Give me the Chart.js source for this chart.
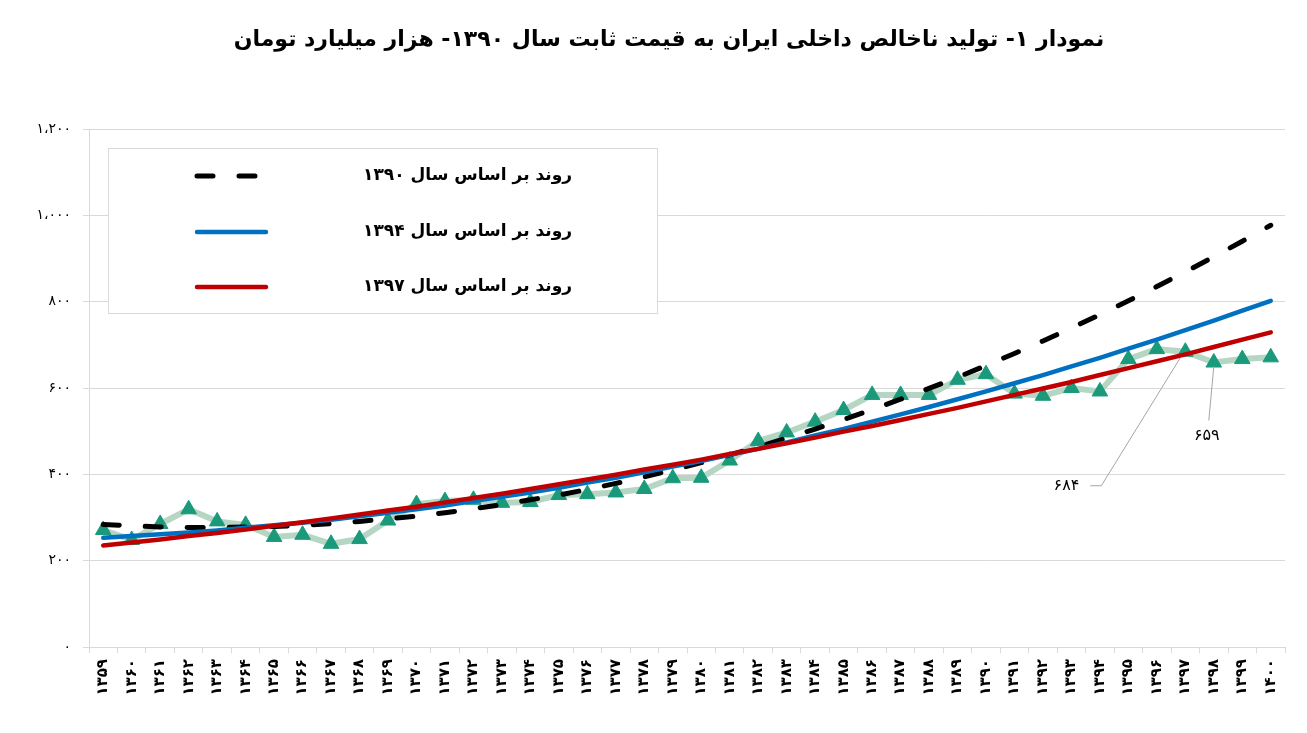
<!DOCTYPE html>
<html lang="fa">
<head>
<meta charset="utf-8">
<script src="https://cdn.jsdelivr.net/npm/chart.js@4.4.1/dist/chart.umd.min.js"></script>
<style>
  html, body { margin: 0; padding: 0; background: #ffffff; }
  #wrap { width: 1307px; height: 733px; position: relative; }
  canvas { display: block; }
</style>
</head>
<body>
<div id="wrap"><canvas id="c" width="1307" height="733"></canvas></div>
<script>
// ---- data ----
const chartTitle = 'نمودار ۱- تولید ناخالص داخلی ایران به قیمت ثابت سال ۱۳۹۰- هزار میلیارد تومان';
const years = ['۱۳۵۹','۱۳۶۰','۱۳۶۱','۱۳۶۲','۱۳۶۳','۱۳۶۴','۱۳۶۵','۱۳۶۶','۱۳۶۷','۱۳۶۸',
  '۱۳۶۹','۱۳۷۰','۱۳۷۱','۱۳۷۲','۱۳۷۳','۱۳۷۴','۱۳۷۵','۱۳۷۶','۱۳۷۷','۱۳۷۸',
  '۱۳۷۹','۱۳۸۰','۱۳۸۱','۱۳۸۲','۱۳۸۳','۱۳۸۴','۱۳۸۵','۱۳۸۶','۱۳۸۷','۱۳۸۸',
  '۱۳۸۹','۱۳۹۰','۱۳۹۱','۱۳۹۲','۱۳۹۳','۱۳۹۴','۱۳۹۵','۱۳۹۶','۱۳۹۷','۱۳۹۸',
  '۱۳۹۹','۱۴۰۰'];
const gdp = [271,248,285,319,291,283,255,260,239,250,
  293,331,338,341,334,336,352,354,358,366,
  391,392,432,477,497,522,549,584,584,584,
  619,632,587,582,600,592,667,690,684,659,
  667,671];
const trend1390 = [284,281,278,277,277,278,279,282,286,291,
  297,303,311,320,330,341,352,365,379,394,
  410,427,445,464,484,505,527,550,574,599,
  625,652,680,709,739,770,802,835,869,904,
  940,977];
const trend1394 = [253,257,261,265,270,276,282,288,295,303,
  311,319,328,338,348,358,369,381,392,405,
  418,431,445,459,474,490,505,522,539,556,
  574,592,611,630,650,670,691,712,734,756,
  779,802];
const trend1397 = [235,242,249,257,264,272,281,289,298,307,
  316,325,335,345,355,366,377,388,399,411,
  422,434,447,459,472,485,499,512,526,540,
  554,569,584,599,614,630,646,662,678,695,
  712,729];
const legendLabels = ['روند بر اساس سال ۱۳۹۰','روند بر اساس سال ۱۳۹۴','روند بر اساس سال ۱۳۹۷'];
const yTickLabels = ['۰','۲۰۰','۴۰۰','۶۰۰','۸۰۰','۱،۰۰۰','۱،۲۰۰'];
const calloutYears = ['۱۳۹۷','۱۳۹۸'];
const calloutTexts = ['۶۸۴','۶۵۹'];

const FONT = "'DejaVu Sans', 'Noto Sans', sans-serif";

// ---- plugins ----
const titlePlugin = {
  id: 'faTitle',
  afterDraw(chart) {
    const ctx = chart.ctx;
    ctx.save();
    ctx.direction = 'rtl';
    ctx.font = 'bold 22px ' + FONT;
    ctx.fillStyle = '#000';
    ctx.textAlign = 'center';
    ctx.textBaseline = 'middle';
    ctx.fillText(chartTitle, 669, 40);
    ctx.restore();
  }
};

const legendPlugin = {
  id: 'faLegend',
  afterDraw(chart) {
    const ctx = chart.ctx;
    const left = chart.chartArea.left + 19;
    const right = chart.chartArea.left + 568;
    const top = chart.chartArea.top + 19;
    const bottom = chart.chartArea.top + 184;
    ctx.save();
    ctx.fillStyle = '#ffffff';
    ctx.fillRect(left, top, right - left, bottom - top);
    ctx.strokeStyle = '#d9d9d9';
    ctx.lineWidth = 1;
    ctx.strokeRect(left + 0.5, top + 0.5, right - left, bottom - top);
    const order = [1, 2, 3]; // dataset indices for trend 1390, 1394, 1397
    const rowY = [top + 28, top + 84, top + 139];
    order.forEach((di, k) => {
      const ds = chart.data.datasets[di];
      const y = rowY[k];
      ctx.beginPath();
      ctx.strokeStyle = ds.borderColor;
      ctx.lineWidth = ds.borderWidth;
      ctx.lineCap = 'round';
      ctx.setLineDash(ds.borderDash || []);
      ctx.moveTo(left + 89, y);
      ctx.lineTo(left + 158, y);
      ctx.stroke();
      ctx.setLineDash([]);
      ctx.direction = 'rtl';
      ctx.font = 'bold 17px ' + FONT;
      ctx.fillStyle = '#000';
      ctx.textAlign = 'right';
      ctx.textBaseline = 'middle';
      ctx.fillText(ds.label, left + 464, y);
    });
    ctx.restore();
  }
};

const calloutPlugin = {
  id: 'callouts',
  afterDatasetsDraw(chart) {
    const ctx = chart.ctx;
    const xs = chart.scales.x, ys = chart.scales.y;
    ctx.save();
    ctx.strokeStyle = '#a6a6a6';
    ctx.lineWidth = 1;
    ctx.font = '16px ' + FONT;
    ctx.fillStyle = '#000';
    ctx.textBaseline = 'middle';
    let i = years.indexOf(calloutYears[0]);
    let px = xs.getPixelForValue(i), py = ys.getPixelForValue(gdp[i]);
    ctx.beginPath();
    ctx.moveTo(px - 5, py + 6);
    ctx.lineTo(px - 84, py + 134);
    ctx.lineTo(px - 95, py + 134);
    ctx.stroke();
    ctx.textAlign = 'right';
    ctx.fillText(calloutTexts[0], px - 106, py + 134);
    i = years.indexOf(calloutYears[1]);
    px = xs.getPixelForValue(i); py = ys.getPixelForValue(gdp[i]);
    ctx.beginPath();
    ctx.moveTo(px, py + 4);
    ctx.lineTo(px - 5, py + 58);
    ctx.stroke();
    ctx.textAlign = 'center';
    ctx.fillText(calloutTexts[1], px - 7, py + 73);
    ctx.restore();
  }
};

new Chart(document.getElementById('c'), {
  type: 'line',
  data: {
    labels: years,
    datasets: [
      { label: 'GDP', data: gdp, order: 3, borderColor: '#b6d6c4', borderWidth: 6,
        pointStyle: 'triangle', pointRadius: 9, pointBackgroundColor: '#1b9a7b',
        pointBorderColor: '#1b9a7b', pointBorderWidth: 1, fill: false, tension: 0 },
      { label: legendLabels[0], data: trend1390, order: 2, borderColor: '#000000', borderWidth: 5,
        borderDash: [16, 26], borderCapStyle: 'round',
        pointRadius: 0, fill: false, tension: 0 },
      { label: legendLabels[1], data: trend1394, order: 1, borderColor: '#0070c0', borderWidth: 4.5,
        pointRadius: 0, fill: false, tension: 0, borderCapStyle: 'round' },
      { label: legendLabels[2], data: trend1397, order: 0, borderColor: '#c00000', borderWidth: 4.5,
        pointRadius: 0, fill: false, tension: 0, borderCapStyle: 'round' }
    ]
  },
  options: {
    responsive: false,
    animation: false,
    devicePixelRatio: 1,
    layout: { padding: { top: 129, right: 22, bottom: 0, left: 0 } },
    plugins: {
      legend: { display: false },
      title: { display: false },
      tooltip: { enabled: false }
    },
    scales: {
      x: {
        offset: true,
        grid: { display: true, drawOnChartArea: false, drawTicks: true, tickLength: 6,
                color: '#d9d9d9', offset: true },
        border: { display: true, color: '#d9d9d9' },
        ticks: { autoSkip: false, maxRotation: 90, minRotation: 90, padding: 6,
                 color: '#000', font: { family: FONT, size: 15, weight: 'bold' } },
        afterFit(scale) { scale.height = 86; }
      },
      y: {
        min: 0, max: 1200,
        ticks: { stepSize: 200, padding: 12, color: '#000',
                 font: { family: FONT, size: 14 },
                 callback: (v, i) => yTickLabels[i] },
        grid: { color: '#d9d9d9', tickLength: 6 },
        border: { display: true, color: '#d9d9d9' },
        afterFit(scale) { scale.width = 89; }
      }
    }
  },
  plugins: [calloutPlugin, legendPlugin, titlePlugin]
});
</script>
</body>
</html>
